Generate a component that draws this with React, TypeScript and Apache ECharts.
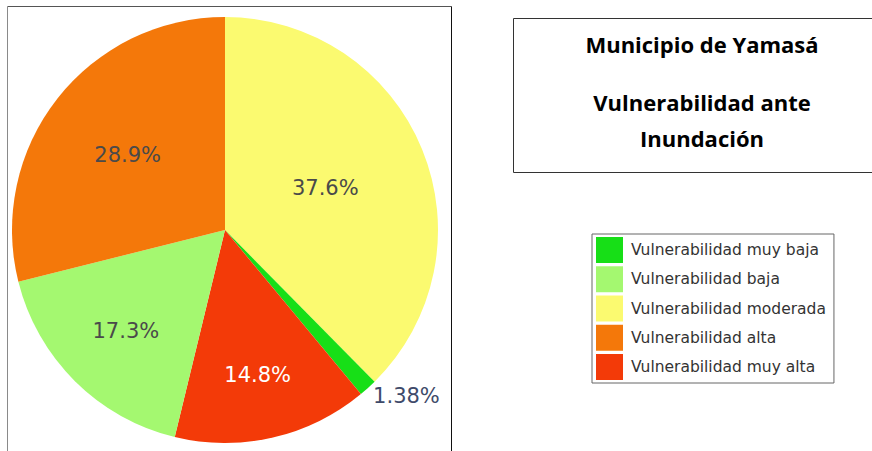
import React, { useEffect, useRef } from "react";
import * as echarts from "echarts";

// Data (pie order, clockwise from 12 o'clock)
const sliceNames = [
  "Vulnerabilidad moderada",
  "Vulnerabilidad muy baja",
  "Vulnerabilidad muy alta",
  "Vulnerabilidad baja",
  "Vulnerabilidad alta",
];
const sliceValues = [37.6, 1.38, 14.8, 17.3, 28.9];

// Legend order
const legendNames = [
  "Vulnerabilidad muy baja",
  "Vulnerabilidad baja",
  "Vulnerabilidad moderada",
  "Vulnerabilidad alta",
  "Vulnerabilidad muy alta",
];

const titleLines = ["Municipio de Yamasá", "Vulnerabilidad ante", "Inundación"];

// Styles
const sliceColors: Record<string, string> = {
  "Vulnerabilidad moderada": "#fbfa70",
  "Vulnerabilidad muy baja": "#17df17",
  "Vulnerabilidad muy alta": "#f33a08",
  "Vulnerabilidad baja": "#a4f870",
  "Vulnerabilidad alta": "#f4780a",
};
const labelColors: Record<string, string> = {
  "Vulnerabilidad moderada": "#4a4a4a",
  "Vulnerabilidad muy baja": "#3e4a6a",
  "Vulnerabilidad muy alta": "#ffffff",
  "Vulnerabilidad baja": "#4a4a4a",
  "Vulnerabilidad alta": "#4a4a4a",
};
// label shifts relative to the default inside position
const labelShift: [number, number][] = [
  [-1, 0],
  [108, 85],
  [8, 38],
  [-22, 23.5],
  [-11, -8],
];

export default function App() {
  const ref = useRef<HTMLDivElement>(null);
  useEffect(() => {
    if (!ref.current) return;
    const chart = echarts.init(ref.current, null, { renderer: "svg" });
    const option: any = {
      animation: false,
      backgroundColor: "#ffffff",
      title: titleLines.map((t, i) => ({
        text: t,
        left: 697,
        top: [28, 86, 122][i],
        textAlign: "center",
        textStyle: {
          fontFamily: "Open Sans",
          fontWeight: "bold",
          fontSize: 22,
          color: "#000000",
        },
      })),
      legend: {
        orient: "vertical",
        left: 592,
        top: 234,
        data: legendNames,
        icon: "rect",
        itemWidth: 27,
        itemHeight: 26,
        itemGap: 3.25,
        padding: [3, 8, 3, 4],
        borderColor: "#666666",
        borderWidth: 1,
        selectedMode: false,
        textStyle: {
          fontFamily: "DejaVu Sans",
          fontSize: 15.5,
          color: "#333333",
          padding: [0, 0, 0, 3],
        },
      },
      graphic: [
        {
          type: "line",
          shape: { x1: 7.5, y1: 6.5, x2: 451.5, y2: 6.5 },
          style: { stroke: "#555555", lineWidth: 1 },
        },
        {
          type: "line",
          shape: { x1: 7.5, y1: 6.5, x2: 7.5, y2: 460 },
          style: { stroke: "#8a8a8a", lineWidth: 1 },
        },
        {
          type: "line",
          shape: { x1: 451.5, y1: 6.5, x2: 451.5, y2: 460 },
          style: { stroke: "#111111", lineWidth: 1 },
        },
        {
          type: "rect",
          shape: { x: 513.5, y: 18.5, width: 380, height: 154 },
          style: { fill: "none", stroke: "#333333", lineWidth: 1 },
        },
      ],
      series: [
        {
          type: "pie",
          center: [225, 230],
          radius: 213,
          startAngle: 90,
          clockwise: true,
          avoidLabelOverlap: false,
          labelLine: { show: false },
          itemStyle: { borderWidth: 0 },
          emphasis: { disabled: true },
          label: {
            show: true,
            position: "inside",
            fontFamily: "DejaVu Sans",
            fontSize: 21,
            formatter: (p: any) => `${p.value}%`,
          },
          labelLayout: (p: any) => ({
            dx: labelShift[p.dataIndex][0],
            dy: labelShift[p.dataIndex][1],
          }),
          data: sliceNames.map((n, i) => ({
            name: n,
            value: sliceValues[i],
            itemStyle: { color: sliceColors[n] },
            label: { color: labelColors[n] },
          })),
        },
      ],
    };
    chart.setOption(option);
    return () => chart.dispose();
  }, []);
  return (
    <div
      ref={ref}
      style={{ position: "fixed", left: 0, top: 0, width: 872, height: 451 }}
    />
  );
}
